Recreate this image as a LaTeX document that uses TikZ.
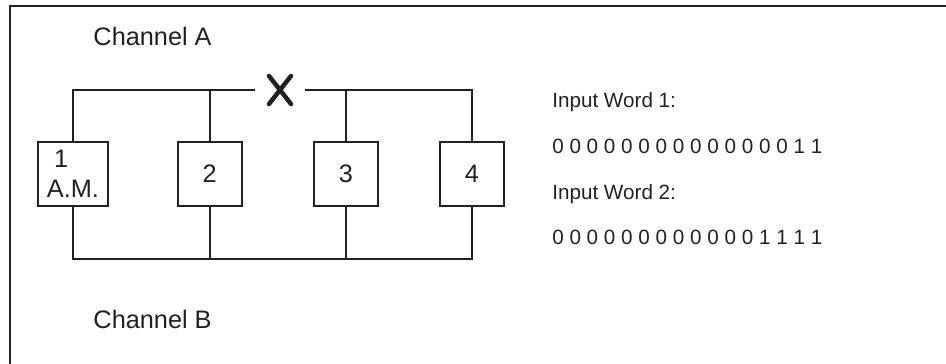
\documentclass[tikz,border=0pt]{standalone}
\usepackage{fontspec}
\setmainfont{Liberation Sans}
\usepackage{tikz}

\begin{document}
\begin{tikzpicture}[
    wire/.style={line width=1.4pt, color=ink},
    cell/.style={draw=ink, line width=1.4pt, minimum width=1.6cm, minimum height=1.6cm,
      inner sep=0, font=\fontsize{18}{21.3}\selectfont, text=ink},
    lbl/.style={anchor=base west, inner sep=0, text=ink},
    xmark/.style={line width=3.2pt, line cap=round, color=ink}]
    \colorlet{ink}{black!87}
    \useasboundingbox (0,0) rectangle (23.65,9.1);
    % frame, only left and top
    \draw[wire] (0.25,0) -- (0.25,8.95) -- (23.65,8.95);
    \node[lbl, font=\fontsize{18}{21.3}\selectfont] (chA) at (2.33,7.96) {Channel A};
    \node[lbl, font=\fontsize{18}{21.3}\selectfont] (chB) at (2.33,0.875) {Channel B};
    % the four modules
    \node[cell, minimum width=1.75cm, align=left] (box1) at (1.825,4.75) {\hspace*{.28em}1\\A.M.};
    \node[cell] (box2) at (5.24,4.75) {2};
    \node[cell] (box3) at (8.65,4.75) {3};
    \node[cell] (box4) at (11.8,4.75) {4};
    % break in channel A
    \node[minimum width=1.225cm, minimum height=0.8cm, inner sep=0] (cut) at (7.0,6.85) {};
    \draw[xmark] ([shift={(-0.275,0.35)}]cut.center) -- ([shift={(0.275,-0.35)}]cut.center);
    \draw[xmark] ([shift={(-0.275,-0.35)}]cut.center) -- ([shift={(0.275,0.35)}]cut.center);
    % channel A bus
    \draw[wire] (box1.north) -- (box1.north |- cut.west) -- (cut.west);
    \draw[wire] (box2.north) -- (box2.north |- cut.west);
    \draw[wire] (cut.east) -- (box4.north |- cut.east) -- (box4.north);
    \draw[wire] (box3.north) -- (box3.north |- cut.east);
    % channel B bus
    \coordinate (low) at (0,2.625);
    \draw[wire] (box1.south) -- (box1.south |- low) -- (box4.south |- low) -- (box4.south);
    \draw[wire] (box2.south) -- (box2.south |- low);
    \draw[wire] (box3.south) -- (box3.south |- low);
    % input words
    \begin{scope}[every node/.append style={font=\fontsize{14.7}{17}\selectfont}]
      \node[lbl] (w1) at (13.8,6.42) {Input Word 1:};
      \node[lbl] (bits1) at (13.8,5.27) {0 0 0 0 0 0 0 0 0 0 0 0 0 0 1 1};
      \node[lbl] (w2) at (13.8,4.12) {Input Word 2:};
      \node[lbl] (bits2) at (13.8,2.99) {0 0 0 0 0 0 0 0 0 0 0 0 1 1 1 1};
    \end{scope}
\end{tikzpicture}
\end{document}
